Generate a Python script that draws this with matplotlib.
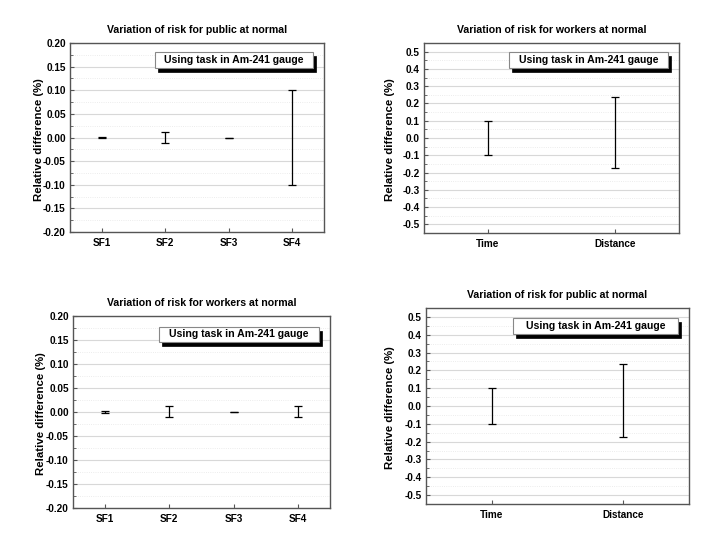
import matplotlib
matplotlib.use("Agg")
import matplotlib.pyplot as plt
from matplotlib.patches import Rectangle
from matplotlib.ticker import MultipleLocator, FuncFormatter
import numpy as np

plt.rcParams['font.family'] = ['Liberation Sans', 'DejaVu Sans']

# ---- data ----
sf_labels = ["SF1", "SF2", "SF3", "SF4"]
td_labels = ["Time", "Distance"]

p1_low = [-0.002, -0.011, 0.0, -0.100]
p1_high = [0.002, 0.011, 0.0, 0.100]

p2_low = [-0.100, -0.175]
p2_high = [0.100, 0.235]

p3_low = [-0.002, -0.011, 0.0, -0.011]
p3_high = [0.002, 0.012, 0.0, 0.012]

p4_low = [-0.100, -0.175]
p4_high = [0.100, 0.235]

titles = ["Variation of risk for public at normal",
          "Variation of risk for workers at normal",
          "Variation of risk for workers at normal",
          "Variation of risk for public at normal"]
legend_text = "Using task in Am-241 gauge"
ylabel = "Relative difference (%)"

W, H = 712, 546
fig = plt.figure(figsize=(W / 100, H / 100), dpi=100)


def add_ax(x0, x1, y0, y1):
    return fig.add_axes([x0 / W, 1 - y1 / H, (x1 - x0) / W, (y1 - y0) / H])


def style(ax, ylim, major, minor, nd, label_x):
    ax.set_ylim(*ylim)
    ax.yaxis.set_major_locator(MultipleLocator(major))
    ax.yaxis.set_minor_locator(MultipleLocator(minor))
    ax.yaxis.set_major_formatter(FuncFormatter(
        lambda v, p: f"{0.0 if abs(v) < 1e-9 else v:.{nd}f}"))
    ax.grid(True, which='major', axis='y', color='#d8d8d8', lw=0.8, ls='-')
    ax.grid(True, which='minor', axis='y', color='#e6e6e6', lw=0.6, ls=':')
    ax.set_axisbelow(True)
    for s in ax.spines.values():
        s.set_color('#555555')
        s.set_linewidth(1.0)
    ax.tick_params(axis='both', which='both', direction='in', colors='#555555',
                   labelcolor='black', labelsize=7.2)
    ax.tick_params(axis='y', which='major', length=3, pad=3)
    ax.tick_params(axis='y', which='minor', length=2)
    ax.tick_params(axis='x', which='major', length=3, pad=4)
    for lab in ax.get_xticklabels() + ax.get_yticklabels():
        lab.set_fontweight('bold')
    ax.set_ylabel(ylabel, fontsize=8.2, fontweight='bold', va='center')
    ax.yaxis.set_label_coords(label_x, 0.49)


def legend_box(ax, x0, x1, y0, y1):
    # shadow
    dx, dy = 0.012, -0.022
    ax.add_patch(Rectangle((x0 + dx, y0 + dy), x1 - x0, y1 - y0, transform=ax.transAxes,
                           facecolor='black', edgecolor='black', lw=0.5, zorder=5, clip_on=False))
    ax.add_patch(Rectangle((x0, y0), x1 - x0, y1 - y0, transform=ax.transAxes,
                           facecolor='white', edgecolor='#888888', lw=0.8, zorder=6, clip_on=False))
    ax.text((x0 + x1) / 2, (y0 + y1) / 2, legend_text, transform=ax.transAxes,
            ha='center', va='center', fontsize=7.6, fontweight='bold', zorder=7)


def draw(ax, labels, low, high, title):
    x = np.arange(1, len(labels) + 1)
    low = np.array(low)
    high = np.array(high)
    center = np.zeros_like(low)
    ax.errorbar(x, center, yerr=[center - low, high - center], fmt='none',
                ecolor='black', elinewidth=0.9, capsize=3.2, capthick=0.9)
    ax.set_xlim(0.5, len(labels) + 0.5)
    ax.set_xticks(x)
    ax.set_xticklabels(labels)
    ax.set_title(title, fontsize=7.6, fontweight='bold', pad=7)


ax1 = add_ax(70, 324, 43, 232)
draw(ax1, sf_labels, p1_low, p1_high, titles[0])
style(ax1, (-0.2, 0.2), 0.05, 0.025, 2, -0.122)
legend_box(ax1, 0.335, 0.957, 0.868, 0.952)

ax2 = add_ax(424, 679, 43, 233)
draw(ax2, td_labels, p2_low, p2_high, titles[1])
style(ax2, (-0.55, 0.55), 0.1, 0.05, 1, -0.133)
legend_box(ax2, 0.333, 0.957, 0.868, 0.953)

ax3 = add_ax(73, 330, 316, 508)
draw(ax3, sf_labels, p3_low, p3_high, titles[2])
style(ax3, (-0.2, 0.2), 0.05, 0.025, 2, -0.126)
legend_box(ax3, 0.335, 0.957, 0.865, 0.943)

ax4 = add_ax(426, 689, 308, 504)
draw(ax4, td_labels, p4_low, p4_high, titles[3])
style(ax4, (-0.55, 0.55), 0.1, 0.05, 1, -0.135)
legend_box(ax4, 0.331, 0.958, 0.867, 0.949)

fig.savefig("out.png", dpi=100, facecolor='white')
